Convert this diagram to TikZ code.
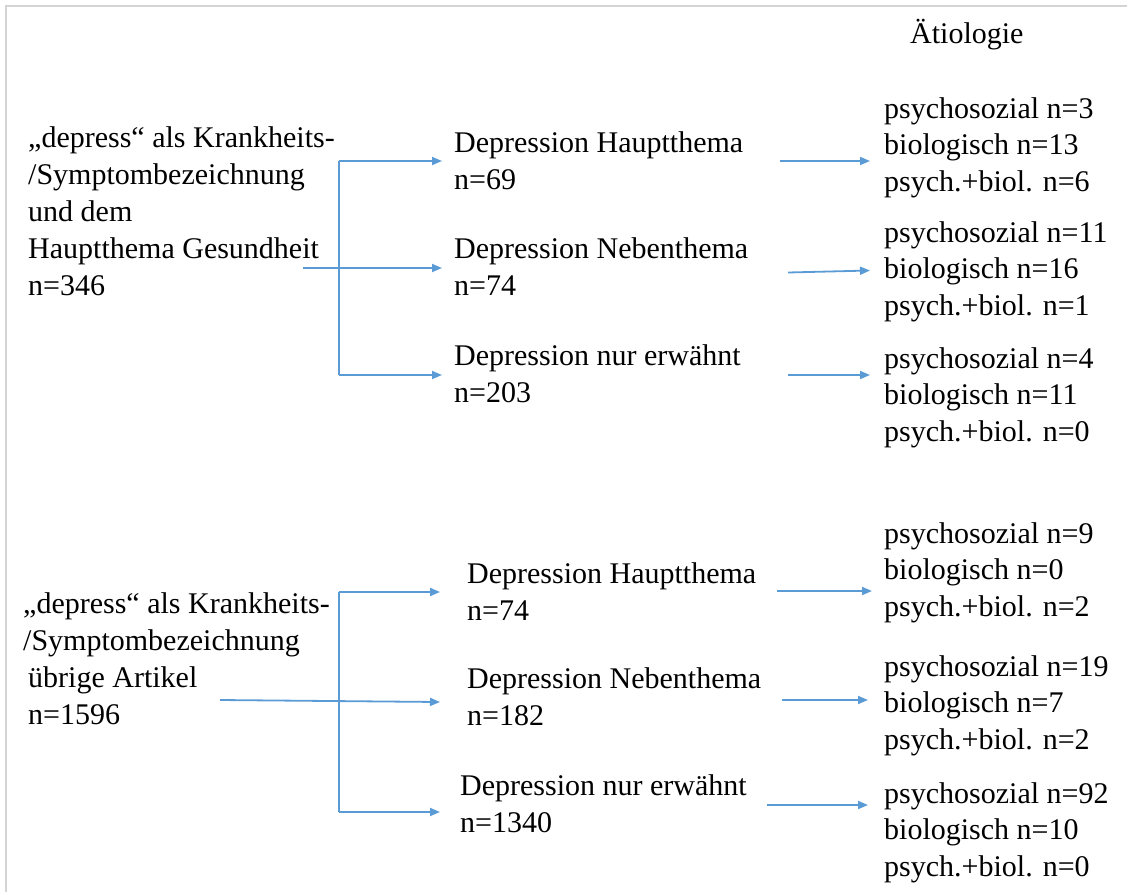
\documentclass[tikz,border=0pt]{standalone}
\usepackage{fontspec}
\setmainfont{LiberationSerif}[Extension=.ttf, UprightFont=*-Regular, BoldFont=*-Bold, ItalicFont=*-Italic]
\usetikzlibrary{arrows.meta}
\definecolor{lineblue}{HTML}{5B9BD5}
\definecolor{framegray}{HTML}{D4D4D4}
\begin{document}
\begin{tikzpicture}[x=1pt,y=-1pt,
  conn/.style={draw=lineblue, line width=1.8pt},
  arr/.style={conn, -{Triangle[length=10pt,width=8pt]}},
  txt/.style={anchor=base west, inner sep=0pt, font=\rmfamily\fontsize{30}{37}\selectfont},
  rtxt/.style={anchor=base west, inner sep=0pt, font=\rmfamily\fontsize{30}{36.5}\selectfont}]
\useasboundingbox (0,0) rectangle (1127,892);
\draw[framegray, line width=1.5pt] (6,892) -- (6,6) -- (1127,6);

% titles and text blocks
\node[txt] (title) at (910,43) {Ätiologie};

\node[txt] (L1) at (28,147) {\begin{tabular}[t]{@{}l@{}}„depress“ als Krankheits-\\/Symptombezeichnung\\und dem\\Hauptthema Gesundheit\\n=346\end{tabular}};
\node[txt] (M1a) at (454,152) {\begin{tabular}[t]{@{}l@{}}Depression Hauptthema\\n=69\end{tabular}};
\node[txt] (M1b) at (454,258) {\begin{tabular}[t]{@{}l@{}}Depression Nebenthema\\n=74\end{tabular}};
\node[txt] (M1c) at (454,365) {\begin{tabular}[t]{@{}l@{}}Depression nur erwähnt\\n=203\end{tabular}};
\node[rtxt] (R1a) at (884,118) {\begin{tabular}[t]{@{}l@{}}psychosozial n=3\\biologisch n=13\\psych.+biol. n=6\end{tabular}};
\node[rtxt] (R1b) at (884,242) {\begin{tabular}[t]{@{}l@{}}psychosozial n=11\\biologisch n=16\\psych.+biol. n=1\end{tabular}};
\node[rtxt] (R1c) at (884,368) {\begin{tabular}[t]{@{}l@{}}psychosozial n=4\\biologisch n=11\\psych.+biol. n=0\end{tabular}};

\node[txt] (L2) at (23,613) {\begin{tabular}[t]{@{}l@{}}„depress“ als Krankheits-\\/Symptombezeichnung\\\hspace*{5pt}übrige Artikel\\\hspace*{5pt}n=1596\end{tabular}};
\node[txt] (M2a) at (467,583) {\begin{tabular}[t]{@{}l@{}}Depression Hauptthema\\n=74\end{tabular}};
\node[txt] (M2b) at (467,688) {\begin{tabular}[t]{@{}l@{}}Depression Nebenthema\\n=182\end{tabular}};
\node[txt] (M2c) at (460,795) {\begin{tabular}[t]{@{}l@{}}Depression nur erwähnt\\n=1340\end{tabular}};
\node[rtxt] (R2a) at (884,543) {\begin{tabular}[t]{@{}l@{}}psychosozial n=9\\biologisch n=0\\psych.+biol. n=2\end{tabular}};
\node[rtxt] (R2b) at (884,676) {\begin{tabular}[t]{@{}l@{}}psychosozial n=19\\biologisch n=7\\psych.+biol. n=2\end{tabular}};
\node[rtxt] (R2c) at (884,803) {\begin{tabular}[t]{@{}l@{}}psychosozial n=92\\biologisch n=10\\psych.+biol. n=0\end{tabular}};

% connector coordinates, block 1
\coordinate (s1) at (303,268);
\coordinate (j1t) at (339,161);
\coordinate (j1b) at (339,375);
\coordinate (t1a) at (442,161);
\coordinate (t1b) at (442,268);
\coordinate (t1c) at (442,375);
\coordinate (u1a) at (780,161);
\coordinate (v1a) at (870,161);
\coordinate (u1b) at (788,272.5);
\coordinate (v1b) at (870,270.5);
\coordinate (u1c) at (788,375);
\coordinate (v1c) at (870,375);

\draw[conn] (j1t) -- (j1b);
\draw[arr] (s1) -- (t1b);
\draw[arr] (j1t) -- (t1a);
\draw[arr] (j1b) -- (t1c);
\draw[arr] (u1a) -- (v1a);
\draw[arr] (u1b) -- (v1b);
\draw[arr] (u1c) -- (v1c);

% connector coordinates, block 2
\coordinate (s2) at (220,700);
\coordinate (j2t) at (339,592);
\coordinate (j2b) at (339,812);
\coordinate (t2a) at (440,592);
\coordinate (t2b) at (440,702);
\coordinate (t2c) at (440,812);
\coordinate (u2a) at (777,591);
\coordinate (v2a) at (872,591);
\coordinate (u2b) at (782,700);
\coordinate (v2b) at (868,700);
\coordinate (u2c) at (767,805);
\coordinate (v2c) at (868,805);

\draw[conn] (j2t) -- (j2b);
\draw[arr] (s2) -- (t2b);
\draw[arr] (j2t) -- (t2a);
\draw[arr] (j2b) -- (t2c);
\draw[arr] (u2a) -- (v2a);
\draw[arr] (u2b) -- (v2b);
\draw[arr] (u2c) -- (v2c);
\end{tikzpicture}
\end{document}
